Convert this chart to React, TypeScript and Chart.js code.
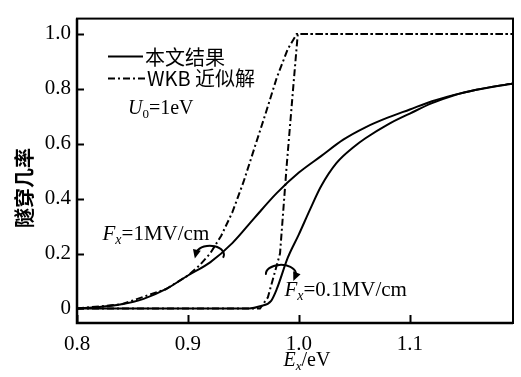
import React, { useEffect, useRef } from 'react';
import { Chart, registerables } from 'chart.js';
Chart.register(...registerables);

// ---- data ----
const xTicks = [0.8, 0.9, 1.0, 1.1];
const yTicks = [0, 0.2, 0.4, 0.6, 0.8, 1.0];

// 本文结果, Fx = 1 MV/cm
const exact1X = [0.8, 0.82, 0.84, 0.86, 0.88, 0.9, 0.92, 0.94, 0.96, 0.98, 1.0, 1.02, 1.04, 1.06, 1.08, 1.1, 1.12, 1.14, 1.16, 1.193];
const exact1Y = [0.0, 0.005, 0.015, 0.035, 0.07, 0.12, 0.168, 0.238, 0.33, 0.42, 0.495, 0.555, 0.615, 0.66, 0.695, 0.725, 0.755, 0.778, 0.797, 0.82];

// 本文结果, Fx = 0.1 MV/cm
const exact01X = [0.8, 0.955, 0.965, 0.975, 0.98, 0.99, 1.0, 1.01, 1.02, 1.034, 1.05, 1.06, 1.08, 1.1, 1.12, 1.14, 1.16, 1.193];
const exact01Y = [0.0, 0.0, 0.008, 0.028, 0.07, 0.185, 0.27, 0.36, 0.445, 0.53, 0.59, 0.62, 0.67, 0.71, 0.748, 0.777, 0.797, 0.82];

// WKB, Fx = 1 MV/cm
const wkb1X = [0.8, 0.84, 0.88, 0.9, 0.91, 0.92, 0.93, 0.94, 0.95, 0.96, 0.97, 0.98, 0.99, 0.998, 1.193];
const wkb1Y = [0.0, 0.015, 0.07, 0.12, 0.155, 0.2, 0.265, 0.35, 0.46, 0.585, 0.71, 0.84, 0.945, 1.0, 1.0];

// WKB, Fx = 0.1 MV/cm
const wkb01X = [0.8, 0.965, 0.972, 0.983, 0.989, 0.995, 0.999, 1.193];
const wkb01Y = [0.0, 0.0, 0.04, 0.2, 0.52, 0.81, 1.0, 1.0];

const seriesLabels = ['本文结果', 'WKB 近似解'];
const yTitle = '隧穿几率';

const SERIF = '"Liberation Serif", "Times New Roman", serif';
const CJK = '"Noto Sans CJK SC", sans-serif';
const DASHDOT = [7, 3, 2, 3];

type Seg = { t: string; font: string; dy?: number };

function richWidth(ctx: CanvasRenderingContext2D, segs: Seg[]) {
  let w = 0;
  for (const s of segs) { ctx.font = s.font; w += ctx.measureText(s.t).width; }
  return w;
}
function drawRich(ctx: CanvasRenderingContext2D, x: number, y: number, segs: Seg[]) {
  let cx = x;
  for (const s of segs) {
    ctx.font = s.font;
    ctx.fillText(s.t, cx, y + (s.dy || 0));
    cx += ctx.measureText(s.t).width;
  }
}

function drawArcArrow(ctx: CanvasRenderingContext2D, cx: number, cy: number, rx: number, ry: number, a0: number, a1: number, ccw: boolean) {
  ctx.beginPath();
  ctx.ellipse(cx, cy, rx, ry, 0, a0, a1, ccw);
  ctx.stroke();
  const ex = cx + rx * Math.cos(a1);
  const ey = cy + ry * Math.sin(a1);
  const s = ccw ? -1 : 1;
  let tx = -rx * Math.sin(a1) * s;
  let ty = ry * Math.cos(a1) * s;
  const n = Math.hypot(tx, ty);
  tx /= n; ty /= n;
  const L = 9, W = 4;
  ctx.beginPath();
  ctx.moveTo(ex + tx * L * 0.6, ey + ty * L * 0.6);
  ctx.lineTo(ex - tx * L * 0.4 - ty * W, ey - ty * L * 0.4 + tx * W);
  ctx.lineTo(ex - tx * L * 0.4 + ty * W, ey - ty * L * 0.4 - tx * W);
  ctx.closePath();
  ctx.fill();
}

const decorPlugin = {
  id: 'decor',
  afterDraw(chart: any) {
    const ctx: CanvasRenderingContext2D = chart.ctx;
    const { left, right, top, bottom } = chart.chartArea;
    const xs = chart.scales.x;
    const ys = chart.scales.y;
    ctx.save();
    ctx.strokeStyle = '#000';
    ctx.fillStyle = '#000';
    // frame
    ctx.lineWidth = 2;
    ctx.strokeRect(left, top, right - left, bottom - top);
    ctx.lineWidth = 2.5;
    ctx.beginPath();
    ctx.moveTo(left, top); ctx.lineTo(left, bottom); ctx.lineTo(right, bottom);
    ctx.stroke();
    // inward ticks
    ctx.lineWidth = 2;
    for (const v of yTicks) {
      const p = Math.round(ys.getPixelForValue(v)) + 0.5;
      ctx.beginPath(); ctx.moveTo(left, p); ctx.lineTo(left + 7, p); ctx.stroke();
    }
    for (const v of xTicks) {
      const p = Math.round(xs.getPixelForValue(v)) + 0.5;
      ctx.beginPath(); ctx.moveTo(p, bottom); ctx.lineTo(p, bottom - 8); ctx.stroke();
    }
    // legend
    const lx = left + 31;
    ctx.lineWidth = 2;
    ctx.beginPath(); ctx.moveTo(lx, top + 38); ctx.lineTo(lx + 35, top + 38); ctx.stroke();
    ctx.setLineDash(DASHDOT);
    ctx.beginPath(); ctx.moveTo(lx, top + 60); ctx.lineTo(lx + 37, top + 60); ctx.stroke();
    ctx.setLineDash([]);
    ctx.textBaseline = 'middle';
    ctx.font = `20px ${CJK}`;
    ctx.fillText(seriesLabels[0], lx + 37, top + 39);
    ctx.font = `20px ${CJK}`;
    ctx.fillText(seriesLabels[1], lx + 39, top + 60);
    ctx.textBaseline = 'alphabetic';
    drawRich(ctx, left + 51, top + 95, [
      { t: 'U', font: `italic 20px ${SERIF}` },
      { t: '0', font: `13px ${SERIF}`, dy: 4 },
      { t: '=1eV', font: `20px ${SERIF}` },
    ]);
    // field labels
    const f1 = [
      { t: 'F', font: `italic 21px ${SERIF}` },
      { t: 'x', font: `italic 14px ${SERIF}`, dy: 4 },
      { t: '=1MV/cm', font: `21px ${SERIF}` },
    ];
    drawRich(ctx, xs.getPixelForValue(0.823), ys.getPixelForValue(0.25), f1);
    const f2 = [
      { t: 'F', font: `italic 21px ${SERIF}` },
      { t: 'x', font: `italic 14px ${SERIF}`, dy: 4 },
      { t: '=0.1MV/cm', font: `21px ${SERIF}` },
    ];
    drawRich(ctx, xs.getPixelForValue(0.987), ys.getPixelForValue(0.045), f2);
    // arrows
    ctx.lineWidth = 2;
    drawArcArrow(ctx, xs.getPixelForValue(0.9198), ys.getPixelForValue(0.196), 14, 9, 0.35, Math.PI + 0.15, true);
    drawArcArrow(ctx, xs.getPixelForValue(0.9838), ys.getPixelForValue(0.126), 15, 9, Math.PI - 0.1, 0.25, false);
    // axis titles
    ctx.save();
    ctx.translate(24, 188);
    ctx.rotate(-Math.PI / 2);
    ctx.textAlign = 'center';
    ctx.textBaseline = 'middle';
    ctx.font = `bold 20px ${CJK}`;
    ctx.fillText(yTitle, 0, 0);
    ctx.restore();
    const xt = [
      { t: 'E', font: `italic 20px ${SERIF}` },
      { t: 'x', font: `italic 13px ${SERIF}`, dy: 4 },
      { t: '/eV', font: `20px ${SERIF}` },
    ];
    const w = richWidth(ctx, xt);
    drawRich(ctx, 307 - w / 2, 366, xt);
    ctx.restore();
  },
};

export default function App() {
  const ref = useRef<HTMLCanvasElement>(null);
  useEffect(() => {
    document.body.style.margin = '0';
    const canvas = ref.current!;
    const pts = (xs: number[], ys: number[]) => xs.map((x, i) => ({ x, y: ys[i] }));
    const common = { pointRadius: 0, fill: false, borderColor: '#000', borderWidth: 2 };
    const chart = new Chart(canvas, {
      type: 'line',
      data: {
        datasets: [
          { ...common, label: seriesLabels[0] + ' 1MV/cm', data: pts(exact1X, exact1Y), cubicInterpolationMode: 'monotone' },
          { ...common, label: seriesLabels[0] + ' 0.1MV/cm', data: pts(exact01X, exact01Y), cubicInterpolationMode: 'monotone' },
          { ...common, label: seriesLabels[1] + ' 1MV/cm', data: pts(wkb1X, wkb1Y), borderDash: DASHDOT, tension: 0 },
          { ...common, label: seriesLabels[1] + ' 0.1MV/cm', data: pts(wkb01X, wkb01Y), borderDash: DASHDOT, tension: 0 },
        ],
      },
      options: {
        animation: false,
        responsive: false,
        maintainAspectRatio: false,
        devicePixelRatio: 1,
        layout: { padding: { top: 7, right: 8, left: 0, bottom: 0 } },
        plugins: { legend: { display: false }, tooltip: { enabled: false } },
        scales: {
          x: {
            type: 'linear',
            min: 0.8,
            max: 1.193,
            border: { display: false },
            grid: { display: false, drawTicks: false },
            ticks: {
              padding: 9,
              color: '#000',
              font: { family: SERIF, size: 21 },
              maxRotation: 0,
              callback: (v: any) => Number(v).toFixed(1),
            },
            afterBuildTicks: (s: any) => { s.ticks = xTicks.map((v) => ({ value: v })); },
            afterFit: (s: any) => { s.height = 54; },
          },
          y: {
            type: 'linear',
            min: -0.053,
            max: 1.056,
            border: { display: false },
            grid: { display: false, drawTicks: false },
            ticks: {
              padding: 6,
              color: '#000',
              font: { family: SERIF, size: 21 },
              callback: (v: any) => (Number(v) === 0 ? '0' : Number(v).toFixed(1)),
            },
            afterBuildTicks: (s: any) => { s.ticks = yTicks.map((v) => ({ value: v })); },
            afterFit: (s: any) => { s.width = 77; },
          },
        },
      },
      plugins: [decorPlugin],
    } as any);
    return () => chart.destroy();
  }, []);
  return (
    <div style={{ position: 'fixed', left: 0, top: 0, width: 521, height: 377, background: '#fff' }}>
      <canvas ref={ref} width={521} height={377} style={{ width: 521, height: 377, display: 'block' }} />
    </div>
  );
}
